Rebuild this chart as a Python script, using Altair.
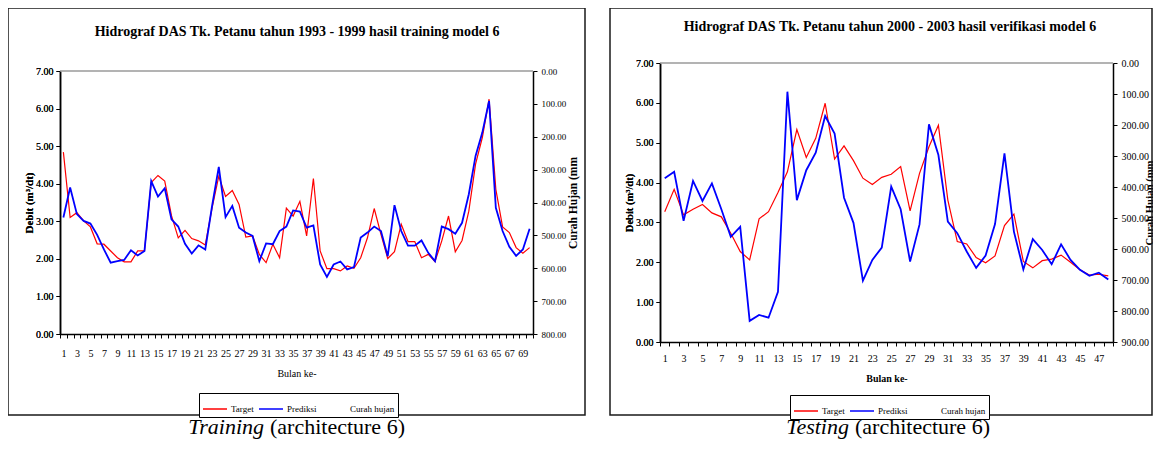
import altair as alt
import pandas as pd

FONT = "Liberation Serif"

# ---------------- data ----------------
train_months = list(range(1, 71))
train_target = [4.84, 3.10, 3.23, 3.01, 2.85, 2.40, 2.39, 2.21, 2.03, 1.92,
                1.92, 2.21, 2.21, 4.03, 4.22, 4.07, 3.15, 2.56, 2.76, 2.54,
                2.48, 2.37, 3.35, 4.20, 3.66, 3.82, 3.45, 2.58, 2.61, 2.12,
                1.90, 2.39, 2.03, 3.35, 3.14, 3.53, 2.61, 4.14, 2.21, 1.74,
                1.74, 1.68, 1.81, 1.75, 2.03, 2.56, 3.34, 2.65, 2.01, 2.19,
                2.92, 2.46, 2.46, 2.03, 2.12, 1.93, 2.48, 3.14, 2.19, 2.49,
                3.27, 4.52, 5.23, 6.25, 3.85, 2.85, 2.70, 2.30, 2.15, 2.30]
train_pred = [3.10, 3.90, 3.19, 3.01, 2.94, 2.64, 2.25, 1.90, 1.94, 1.97,
              2.23, 2.09, 2.21, 4.07, 3.66, 3.88, 3.05, 2.86, 2.40, 2.14,
              2.36, 2.25, 3.40, 4.45, 3.11, 3.41, 2.83, 2.70, 2.61, 1.94,
              2.41, 2.39, 2.74, 2.86, 3.29, 3.26, 2.83, 2.89, 1.85, 1.52,
              1.85, 1.93, 1.72, 1.78, 2.57, 2.70, 2.86, 2.74, 2.07, 3.43,
              2.74, 2.35, 2.35, 2.49, 2.16, 1.94, 2.86, 2.79, 2.67, 2.96,
              3.72, 4.74, 5.36, 6.20, 3.36, 2.74, 2.32, 2.08, 2.25, 2.80]

test_months = list(range(1, 49))
test_target = [3.27, 3.83, 3.19, 3.33, 3.45, 3.24, 3.14, 2.73, 2.27, 2.06,
               3.09, 3.27, 3.75, 4.27, 5.33, 4.63, 5.11, 5.99, 4.59, 4.92,
               4.55, 4.11, 3.95, 4.13, 4.21, 4.40, 3.29, 4.23, 4.90, 5.44,
               3.56, 2.52, 2.46, 2.12, 1.99, 2.16, 2.92, 3.21, 2.02, 1.86,
               2.04, 2.08, 2.18, 2.00, 1.81, 1.68, 1.70, 1.66]
test_pred = [4.11, 4.27, 3.04, 4.04, 3.54, 3.98, 3.33, 2.64, 2.89, 0.53,
             0.68, 0.61, 1.26, 6.28, 3.56, 4.31, 4.75, 5.67, 5.23, 3.62,
             2.99, 1.54, 2.06, 2.37, 3.90, 3.33, 2.02, 2.95, 5.46, 4.69,
             3.02, 2.73, 2.27, 1.86, 2.17, 2.96, 4.73, 2.77, 1.82, 2.58,
             2.31, 1.95, 2.45, 2.06, 1.81, 1.66, 1.74, 1.57]

debit_ticks = [0, 1, 2, 3, 4, 5, 6, 7]
train_rain_ticks = [0, 100, 200, 300, 400, 500, 600, 700, 800]
test_rain_ticks = [0, 100, 200, 300, 400, 500, 600, 700, 800, 900]

series_names = ["Target", "Prediksi", "Curah hujan"]
series_colors = ["#ff0000", "#0000ff", "transparent"]

train_title = "Hidrograf DAS Tk. Petanu tahun 1993 - 1999 hasil training model 6"
test_title = "Hidrograf DAS Tk. Petanu tahun 2000 - 2003 hasil verifikasi model 6"
y_title = "Debit (m³/dt)"
rain_title = "Curah Hujan (mm"
x_title = "Bulan ke-"
train_caption = ["Training", "(architecture 6)"]
test_caption = ["Testing", "(architecture 6)"]


def panel(months, target, pred, rain_ticks, title, caption, L):
    W, H = L["w"], L["h"]
    df_t = pd.DataFrame({"Bulan": months, "Debit": target, "Seri": "Target"})
    df_p = pd.DataFrame({"Bulan": months, "Debit": pred, "Seri": "Prediksi"})
    rain_df = pd.DataFrame({"Curah": rain_ticks})
    one = pd.DataFrame({"k": [0]})

    x_enc = alt.X(
        "Bulan:O",
        scale=alt.Scale(type="band", paddingInner=0, paddingOuter=0),
        axis=alt.Axis(
            title=x_title, tickBand="extent",
            labelExpr="datum.value % 2 == 1 ? datum.label : ''",
            labelAngle=0, labelOverlap=False,
            labelFont=FONT, labelFontSize=L["tick_fs"], labelColor="black",
            labelPadding=L["xlab_pad"], tickSize=4, tickColor="black", tickWidth=1,
            domainColor="black", domainWidth=1.5,
            titleFont=FONT, titleFontSize=10, titleFontWeight=L["xtitle_weight"],
            titleColor="black", titlePadding=L["xtitle_pad"]),
    )
    y_enc = alt.Y(
        "Debit:Q",
        scale=alt.Scale(domain=[0, 7], nice=False),
        axis=alt.Axis(
            orient="left", values=debit_ticks, format=".2f", grid=False,
            labelFont=FONT, labelFontSize=L["tick_fs"], labelColor="black",
            labelPadding=3, tickSize=4, tickColor="black", tickWidth=1,
            domainColor="black", domainWidth=1.5,
            title=y_title, titleFont=FONT, titleFontSize=L["ytitle_fs"],
            titleFontWeight="bold", titleColor="black", titlePadding=1),
    )
    color_enc = alt.Color(
        "Seri:N",
        scale=alt.Scale(domain=series_names, range=series_colors),
        legend=alt.Legend(
            orient="none", legendX=L["leg_x"], legendY=L["leg_y"],
            direction="horizontal", title=None,
            symbolType="stroke", symbolSize=576, symbolStrokeWidth=1.5,
            labelFont=FONT, labelFontSize=9, labelColor="black",
            labelOffset=3, columnPadding=2, padding=3,
            strokeColor="black", fillColor="white", labelLimit=200),
    )

    top_rule = alt.Chart(one).mark_rule(color="#9a9a9a", strokeWidth=1.5).encode(
        x=alt.value(0), x2=alt.value(W), y=alt.value(0))
    line_t = alt.Chart(df_t).mark_line(strokeWidth=1.2).encode(x=x_enc, y=y_enc, color=color_enc)
    line_p = alt.Chart(df_p).mark_line(strokeWidth=1.8).encode(x=x_enc, y=y_enc, color=color_enc)

    rain = alt.Chart(rain_df).mark_point(opacity=0).encode(
        y=alt.Y(
            "Curah:Q",
            scale=alt.Scale(domain=[0, rain_ticks[-1]], reverse=True, nice=False),
            axis=alt.Axis(
                orient="right", values=rain_ticks, format=".2f", grid=False,
                labelFont=FONT, labelFontSize=L["rain_fs"], labelColor="black",
                labelPadding=4, tickSize=4, tickColor="black", tickWidth=1,
                domainColor="black", domainWidth=1.5,
                title=rain_title, titleFont=FONT, titleFontSize=L["rtitle_fs"],
                titleFontWeight="bold", titleColor="black",
                titleAngle=270, titleBaseline="top", titlePadding=L["rtitle_pad"]),
        )
    )

    bx0, bx1, by0, by1 = L["border"]
    mask = alt.Chart(one).mark_rect(fill="white").encode(
        x=alt.value(L["mask_x"]), x2=alt.value(bx1), y=alt.value(by0), y2=alt.value(by1))
    border = alt.Chart(one).mark_rect(fillOpacity=0, stroke="#1a1a1a", strokeWidth=1.5).encode(
        x=alt.value(bx0), x2=alt.value(bx1), y=alt.value(by0), y2=alt.value(by1))

    tx, ty = L["title_xy"]
    title_mark = alt.Chart(one).mark_text(
        font=FONT, fontSize=14, fontWeight="bold", color="black",
        align="center", baseline="middle").encode(
        x=alt.value(tx), y=alt.value(ty), text=alt.value(title))

    cx, cy, split = L["cap_xy"]
    cap_it = alt.Chart(one).mark_text(
        font=FONT, fontSize=22, fontStyle="italic", color="black",
        align="right", baseline="alphabetic").encode(
        x=alt.value(cx + split), y=alt.value(cy), text=alt.value(caption[0]))
    cap_rest = alt.Chart(one).mark_text(
        font=FONT, fontSize=22, color="black",
        align="left", baseline="alphabetic").encode(
        x=alt.value(cx + split + 6), y=alt.value(cy), text=alt.value(caption[1]))

    return alt.layer(
        top_rule, line_t, line_p, rain, mask, border, title_mark, cap_it, cap_rest
    ).resolve_scale(y="independent").properties(width=W, height=H)


L1 = dict(w=473, h=263, tick_fs=10, rain_fs=9, xlab_pad=10, xtitle_pad=10,
          xtitle_weight="normal", ytitle_fs=11, rtitle_fs=11.5, rtitle_pad=2,
          leg_x=139, leg_y=322, border=(-52, 525, -63, 344), mask_x=521,
          title_xy=(237, -39), cap_xy=(235, 363, -31))
L2 = dict(w=453, h=279, tick_fs=10, rain_fs=10, xlab_pad=7, xtitle_pad=10,
          xtitle_weight="bold", ytitle_fs=10.5, rtitle_fs=10.6, rtitle_pad=-4,
          leg_x=130, leg_y=332, border=(-50, 492, -55, 352), mask_x=492,
          title_xy=(230, -36), cap_xy=(227, 371, -38))

p1 = panel(train_months, train_target, train_pred, train_rain_ticks, train_title, train_caption, L1)
p2 = panel(test_months, test_target, test_pred, test_rain_ticks, test_title, test_caption, L2)

chart = alt.hconcat(p1, p2, spacing=127, bounds="flush", center=True).resolve_scale(
    color="independent").resolve_legend(color="independent").properties(
    autosize=alt.AutoSizeParams(type="none"),
    padding={"left": 52, "top": 55, "right": 1093, "bottom": 376},
    background="white").configure_view(stroke="transparent")

chart.save("out.html", embed_options={"renderer": "svg", "actions": False})
